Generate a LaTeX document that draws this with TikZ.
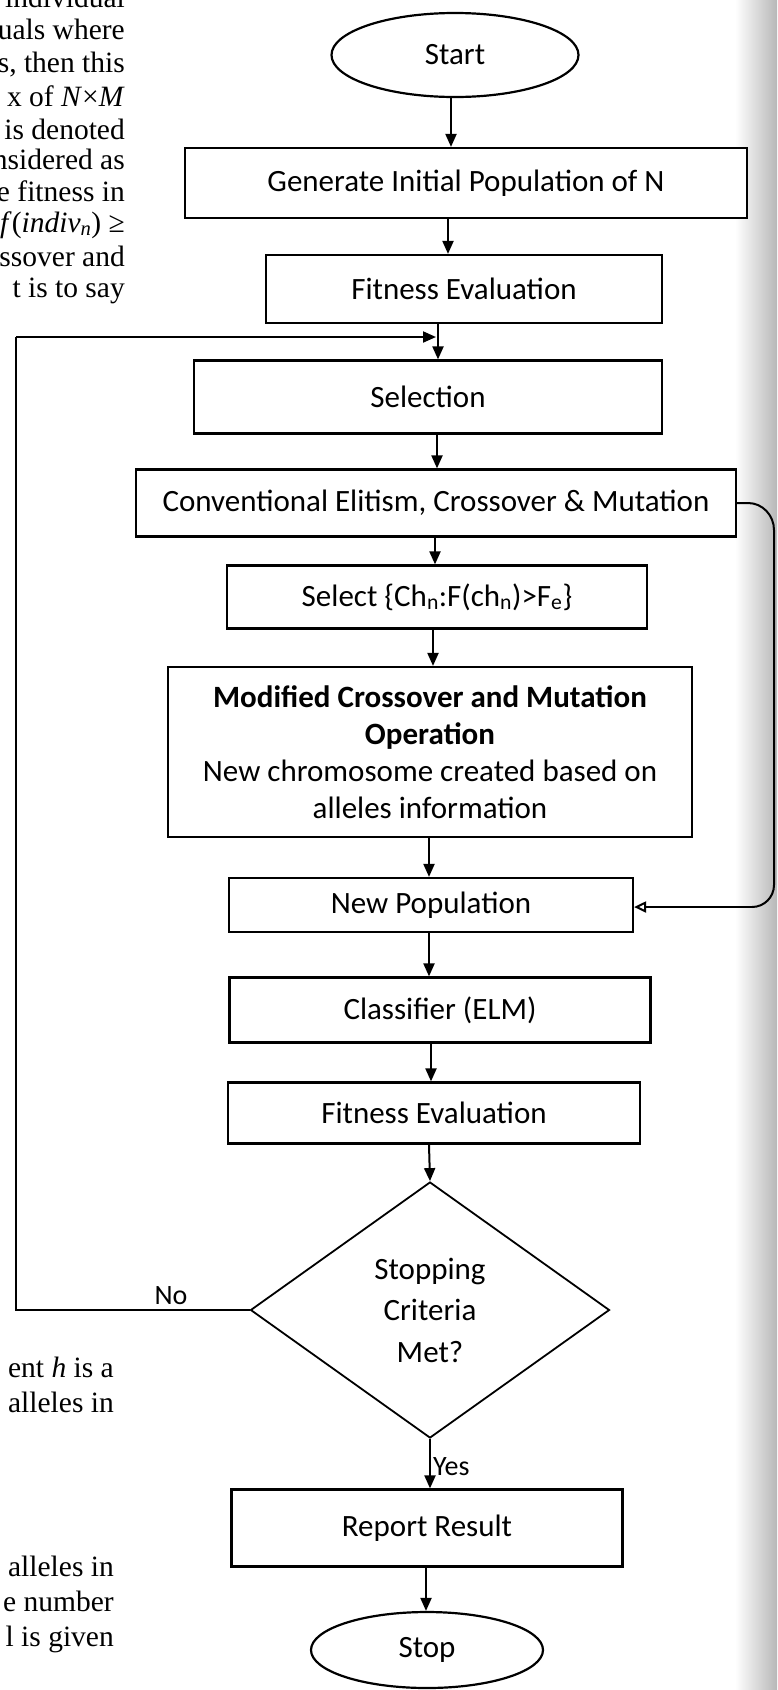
\documentclass[tikz,border=0pt]{standalone}
\usepackage{fontspec}
\setmainfont{Carlito}
\newfontfamily\bookfont{Liberation Serif}
\usetikzlibrary{shapes.geometric,arrows.meta}
\begin{document}
\begin{tikzpicture}[x=1pt,y=-1pt,
  box/.style={draw, line width=2.2pt, fill=white, inner sep=0pt, align=center, font=\fontsize{31}{37}\selectfont},
  oval/.style={draw, ellipse, line width=2.2pt, fill=white, inner sep=0pt, font=\fontsize{31}{37}\selectfont},
  arr/.style={line width=2pt, -{Triangle[length=13pt,width=11pt]}},
  openarr/.style={line width=2pt, -{Triangle[open,length=12pt,width=11pt,line width=2pt]}},
  wire/.style={line width=2pt},
  book/.style={anchor=base east, inner sep=0pt, font=\bookfont\fontsize{29.5}{32}\selectfont},
  lbl/.style={inner sep=0pt, font=\fontsize{28}{32}\selectfont}]
\useasboundingbox (0,0) rectangle (777,1690);
\fill[white] (0,0) rectangle (777,1690);
\shade[left color=white, right color=black!28] (735,0) rectangle (777,1690);

% book text fragments
\node[book] (b0) at (125,7) {individual};
\node[book] (b1) at (125,39) {uals where};
\node[book] (b2) at (125,72) {s, then this};
\node[book] (b3) at (125,106) {x of \textit{N}×\textit{M}};
\node[book] (b4) at (125,139) {is denoted};
\node[book] (b5) at (125,169) {nsidered as};
\node[book] (b6) at (125,201) {e fitness in};
\node[book] (b7) at (125,232) {\textit{f}(\textit{indiv\textsubscript{n}}) ≥};
\node[book] (b8) at (125,266) {ssover and};
\node[book] (b9) at (125,297) {t is to say};
\node[book] (b10) at (114,1377) {ent \textit{h} is a};
\node[book] (b11) at (114,1412) {alleles in};
\node[book] (b12) at (114,1576) {alleles in};
\node[book] (b13) at (114,1611) {e number};
\node[book] (b14) at (114,1646) {l is given};

% flowchart nodes
\node[oval, minimum width=247pt, minimum height=84pt] (start) at (455,55) {Start};
\node[box, minimum width=562pt, minimum height=70pt] (gen) at (466,183) {Generate Initial Population of N};
\node[box, minimum width=396pt, minimum height=68pt] (fit1) at (464,289) {Fitness Evaluation};
\node[box, minimum width=468pt, minimum height=73pt] (sel) at (428,397) {Selection};
\node[box, minimum width=600pt, minimum height=67pt] (conv) at (436,503) {Conventional Elitism, Crossover \& Mutation};
\node[box, minimum width=420pt, minimum height=63pt] (selch) at (437,597) {Select \{Ch\textsubscript{n}:F(ch\textsubscript{n})>F\textsubscript{e}\}};
\node[box, minimum width=524pt, minimum height=170pt] (mod) at (430,752)
  {\textbf{Modified Crossover and Mutation}\\\textbf{Operation}\\New chromosome created based on\\alleles information};
\node[box, minimum width=404pt, minimum height=54pt] (newpop) at (431,905) {New Population};
\node[box, minimum width=421pt, minimum height=65pt] (cls) at (440,1010) {Classifier (ELM)};
\node[box, minimum width=412pt, minimum height=61pt] (fit2) at (434,1113) {Fitness Evaluation};
\node[draw, diamond, line width=1.8pt, fill=white, minimum width=359pt, minimum height=256pt, inner sep=0pt, align=center,
  font=\fontsize{31}{41.5}\selectfont] (dia) at (430,1310) {Stopping\\Criteria\\Met?};
\node[box, minimum width=391pt, minimum height=77pt] (report) at (427,1528) {Report Result};
\node[oval, minimum width=232pt, minimum height=76pt] (stop) at (427,1650) {Stop};

% arrow columns
\coordinate (c1) at (451,0);
\coordinate (c2) at (448,0);
\coordinate (c3) at (438,0);
\coordinate (c4) at (437,0);
\coordinate (c5) at (435,0);
\coordinate (c6) at (433,0);
\coordinate (c7) at (429,0);
\coordinate (c8) at (431,0);
\coordinate (c9) at (428,0);
\coordinate (c10) at (426,0);

\draw[arr] (start.south -| c1) -- (gen.north -| c1);
\draw[arr] (gen.south -| c2) -- (fit1.north -| c2);
\draw[arr] (fit1.south -| c3) -- (sel.north -| c3);
\draw[arr] (sel.south -| c4) -- (conv.north -| c4);
\draw[arr] (conv.south -| c5) -- (selch.north -| c5);
\draw[arr] (selch.south -| c6) -- (mod.north -| c6);
\draw[arr] (mod.south -| c7) -- (newpop.north -| c7);
\draw[arr] (newpop.south -| c7) -- (cls.north -| c7);
\draw[arr] (cls.south -| c8) -- (fit2.north -| c8);
\draw[arr] (fit2.south -| c7) -- (dia.north);
\draw[arr] (dia.south) -- (report.north -| dia.south) node[lbl, pos=0.55, anchor=west, xshift=2pt] (yes) {Yes};
\draw[arr] (report.south -| c10) -- (stop.north -| c10);

% loop back (No)
\coordinate (lx) at (16,0);
\coordinate (lt) at (436,337);
\draw[wire] (dia.west) -- (dia.west -| lx) -- (lx |- lt);
\draw[arr] (lx |- lt) -- (lt);
\node[lbl, anchor=base] (no) at (171,1304) {No};

% right-side connector
\coordinate (r1) at (774,530);
\coordinate (r2) at (774,885);
\draw[wire] (conv.east) -- (748,503) to[out=0,in=90] (r1) -- (r2) to[out=-90,in=0] (752,907) coordinate (r3);
\draw[openarr] (r3) -- (newpop.east |- r3);
\end{tikzpicture}
\end{document}
